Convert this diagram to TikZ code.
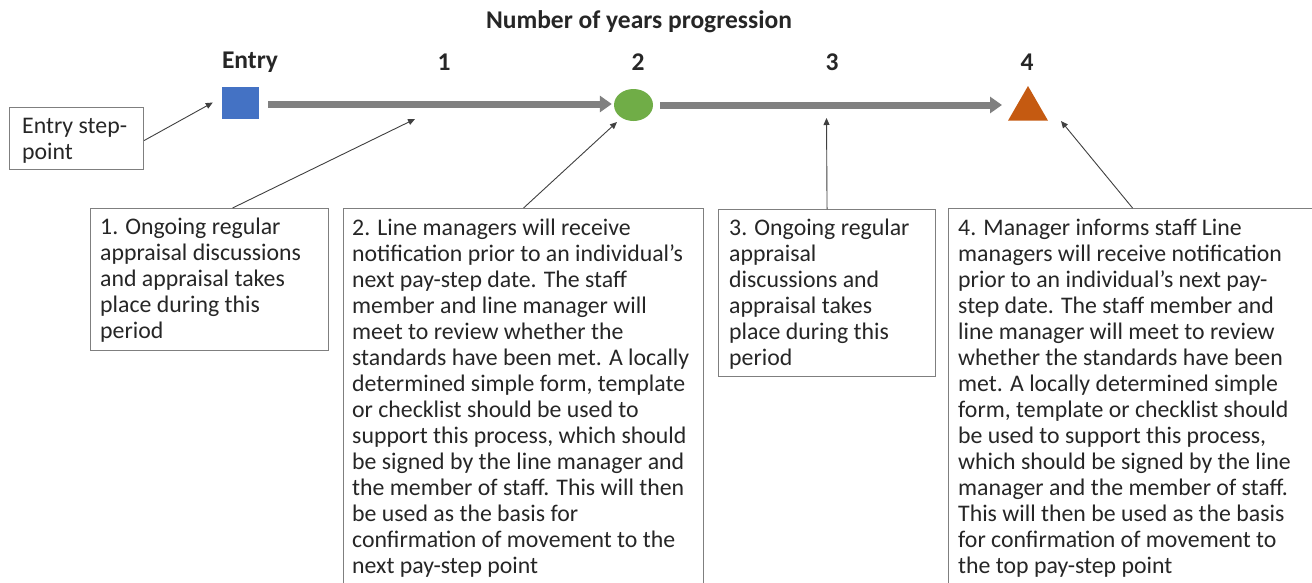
\documentclass[tikz,border=0pt]{standalone}
\usepackage{fontspec}
\setmainfont{Carlito}
\usetikzlibrary{arrows.meta,shapes.geometric}
\definecolor{txtcol}{HTML}{262626}
\definecolor{boxcol}{HTML}{7F7F7F}
\definecolor{linecol}{HTML}{404040}
\definecolor{arrcol}{HTML}{808080}
\definecolor{bluefill}{HTML}{4472C4}
\definecolor{greenfill}{HTML}{70AD47}
\definecolor{orangefill}{HTML}{C55A11}
\tikzset{
  box/.style={draw=boxcol, line width=1.1pt, rectangle, inner sep=0pt, anchor=north west},
  txt/.style={font=\fontsize{23.8}{26}\selectfont, text=txtcol, inner sep=0pt, anchor=north west, align=left},
  hdr/.style={font=\fontsize{25.5}{28}\selectfont\bfseries, text=txtcol, inner sep=0pt},
  callout/.style={draw=linecol, line width=0.9pt, -{Triangle[length=7pt,width=6pt]}},
  bigarrow/.style={draw=arrcol, line width=7pt, -{Triangle[length=12pt,width=16pt]}}
}
\begin{document}
\begin{tikzpicture}[x=1pt,y=-1pt]
\useasboundingbox (0,0) rectangle (1312,582);
\fill[white] (0,0) rectangle (1312,582);
\begin{scope}
\clip (0,0) rectangle (1312,582);
% headers
\node[hdr] (title) at (639,22) {Number of years progression};
\node[hdr] (l0) at (250,62) {Entry};
\node[hdr] (l1) at (444,62) {1};
\node[hdr] (l2) at (638,62) {2};
\node[hdr] (l3) at (832,62) {3};
\node[hdr] (l4) at (1027,62) {4};
% markers
\node[rectangle, fill=bluefill, minimum width=37pt, minimum height=32pt, inner sep=0pt] (sq) at (240.5,102.5) {};
\node[ellipse, fill=greenfill, minimum width=39pt, minimum height=32pt, inner sep=0pt] (circ) at (633.5,105) {};
\node[regular polygon, regular polygon sides=3, fill=orangefill, minimum size=46.2pt, inner sep=0pt] (tri) at (1028,109.1) {};
\coordinate (a2end) at (1002,105);
% big arrows
\draw[bigarrow, shorten <=9pt, shorten >=2pt] (sq.east |- 0,104) -- (circ.west |- 0,104);
\draw[bigarrow, shorten <=7pt] (circ.east) -- (a2end);
% boxes
\node[box, minimum width=134pt, minimum height=62pt] (be) at (9,107) {};
\node[box, minimum width=238pt, minimum height=142pt] (b1) at (90,208) {};
\node[box, minimum width=360pt, minimum height=412pt] (b2) at (343,208) {};
\node[box, minimum width=217pt, minimum height=167pt] (b3) at (718,209) {};
\node[box, minimum width=392pt, minimum height=412pt] (b4) at (948,208) {};
% texts
\node[txt] (tbe) at (22,114.8) {\strut Entry step-\\point};
\node[txt] (tb1) at (100,215.8) {\strut 1. Ongoing regular\\appraisal discussions\\and appraisal takes\\place during this\\period};
\node[txt] (tb2) at (352,216.8) {\strut 2. Line managers will receive\\notification prior to an individual’s\\next pay-step date. The staff\\member and line manager will\\meet to review whether the\\standards have been met. A locally\\determined simple form, template\\or checklist should be used to\\support this process, which should\\be signed by the line manager and\\the member of staff. This will then\\be used as the basis for\\confirmation of movement to the\\next pay-step point};
\node[txt] (tb3) at (729,216.8) {\strut 3. Ongoing regular\\appraisal\\discussions and\\appraisal takes\\place during this\\period};
\node[txt] (tb4) at (958,216.8) {\strut 4. Manager informs staff Line\\managers will receive notification\\prior to an individual’s next pay-\\step date. The staff member and\\line manager will meet to review\\whether the standards have been\\met. A locally determined simple\\form, template or checklist should\\be used to support this process,\\which should be signed by the line\\manager and the member of staff.\\This will then be used as the basis\\for confirmation of movement to\\the top pay-step point};
% callout targets
\coordinate (t1) at (415,119);
\coordinate (t2) at (617,122);
\coordinate (t3) at (826.5,118);
\coordinate (t4) at (1061,121);
% callouts
\draw[callout] ([yshift=-2pt]be.east) -- ([xshift=-9pt]sq.west);
\draw[callout] ([xshift=23pt]b1.north) -- (t1);
\draw[callout] (b2.north) -- (t2);
\draw[callout] (b3.north) -- (t3);
\draw[callout] ([xshift=-12pt]b4.north) -- (t4);
\end{scope}
\end{tikzpicture}
\end{document}
